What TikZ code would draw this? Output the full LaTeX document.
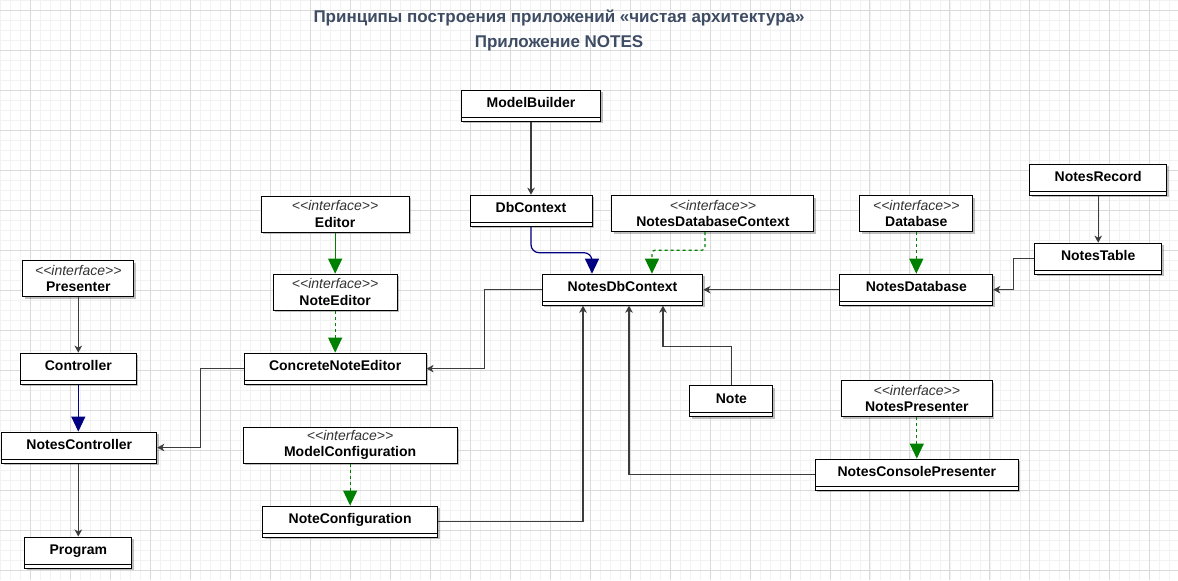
\documentclass[tikz,border=0pt]{standalone}
\usepackage{fontspec}
\setmainfont{Liberation Sans}
\usepackage{xcolor}
\usetikzlibrary{arrows.meta,shadows}

\definecolor{titleblue}{RGB}{62,76,100}
\definecolor{genblue}{RGB}{0,0,128}
\definecolor{realgreen}{RGB}{0,128,0}
\definecolor{gridmajor}{RGB}{218,218,218}
\definecolor{gridminor}{RGB}{242,242,242}
\definecolor{linegray}{RGB}{60,60,60}

\newcommand{\umlstereo}[1]{{\itshape\mdseries\color{black!80}<\kern0pt<#1>\kern0pt>}}

\begin{document}
\begin{tikzpicture}[x=1pt,y=-1pt,
  box/.style={draw,fill=white,line width=1pt,inner xsep=2pt,
              drop shadow={shadow xshift=2pt,shadow yshift=-2pt,opacity=0.25,fill=black}},
  cls/.style={box,inner ysep=0pt,text height=17.5pt,text depth=13.5pt,
              font=\fontsize{14}{17}\selectfont\bfseries,
              path picture={\draw[line width=0.7pt] ([yshift=4pt]path picture bounding box.south west)
                -- ([yshift=4pt]path picture bounding box.south east);}},
  iface/.style={box,align=center,minimum height=36pt,inner ysep=1pt,
                font=\fontsize{14}{16.5}\selectfont\bfseries},
  assoc/.style={-{Stealth[length=7pt,width=7.5pt,inset=2pt]},line width=1.2pt,draw=linegray},
  gen/.style={-{Triangle[length=15pt,width=14pt]},line width=1.2pt},
  real/.style={gen,dash pattern=on 3pt off 3pt,realgreen}]

% background grid
\fill[white] (0,0) rectangle (1178,580);
\foreach \gx in {0,10,...,1170} \draw[gridminor,line width=0.5pt] (\gx,0) -- (\gx,580);
\foreach \gy in {0,10,...,570} \draw[gridminor,line width=0.5pt] (0,\gy) -- (1178,\gy);
\foreach \gx in {30,70,...,1150} \draw[gridmajor,line width=0.7pt] (\gx,0) -- (\gx,580);
\foreach \gy in {10,50,...,570} \draw[gridmajor,line width=0.7pt] (0,\gy) -- (1178,\gy);
\useasboundingbox (0,0) rectangle (1178,580);

\node[font=\fontsize{17}{25}\selectfont\bfseries,text=titleblue,align=center] (title) at (559,30.5)
  {Принципы построения приложений «чистая архитектура»\\Приложение NOTES};

% data layer
\node[cls,minimum width=140pt]   (mb)    at (531,105.5)  {ModelBuilder};
\node[cls,minimum width=122pt]   (dbc)   at (531,210.5)  {DbContext};
\node[iface,minimum width=202pt] (ndc)   at (713,213.5)  {\umlstereo{interface}\\NotesDatabaseContext};
\node[cls,minimum width=161pt]   (ndb)   at (622.5,289.5) {NotesDbContext};
\node[iface,minimum width=113pt] (db)    at (916.5,213.5) {\umlstereo{interface}\\Database};
\node[cls,minimum width=153pt]   (ndbs)  at (916.5,289.5) {NotesDatabase};
\node[cls,minimum width=137pt]   (nrec)  at (1098.5,179.5) {NotesRecord};
\node[cls,minimum width=127pt]   (ntab)  at (1098.5,258.5) {NotesTable};

% editor
\node[iface,minimum width=148pt] (ed)    at (335,214)    {\umlstereo{interface}\\Editor};
\node[iface,minimum width=124pt] (ned)   at (335,292)    {\umlstereo{interface}\\NoteEditor};
\node[cls,minimum width=182pt]   (cne)   at (335,368.5)  {ConcreteNoteEditor};

% controller
\node[iface,minimum width=111pt] (pres)  at (78,278.5)   {\umlstereo{interface}\\Presenter};
\node[cls,minimum width=116pt]   (ctrl)  at (78,368.5)   {Controller};
\node[cls,minimum width=155pt]   (nctrl) at (79,447.5)   {NotesController};
\node[cls,minimum width=107pt]   (prog)  at (78,552.5)   {Program};

% configuration and presenter
\node[iface,minimum width=214pt] (mcfg)  at (350,445)    {\umlstereo{interface}\\ModelConfiguration};
\node[cls,minimum width=175pt]   (ncfg)  at (350,521.5)  {NoteConfiguration};
\node[cls,minimum width=83pt]    (note)  at (731.5,401)  {Note};
\node[iface,minimum width=151pt] (npres) at (917,398.5)  {\umlstereo{interface}\\NotesPresenter};
\node[cls,minimum width=203pt]   (ncp)   at (917,474.5)  {NotesConsolePresenter};

\draw[assoc] (mb) -- (dbc);
\draw[gen,genblue,rounded corners=8pt] (dbc.south) -- ++(0,26) -| ([xshift=-30.5pt]ndb.north);
\draw[real,rounded corners=3pt] ([xshift=-8pt]ndc.south) -- ++(0,18) -| ([xshift=29.5pt]ndb.north);
\draw[assoc] (ndbs) -- (ndb);
\draw[assoc] (ntab.west) -- ++(-21,0) |- (ndbs.east);
\draw[assoc] (nrec) -- (ntab);
\draw[real] (db) -- (ndbs);

\draw[gen,realgreen] (ed) -- (ned);
\draw[real] (ned) -- (cne);
\draw[assoc] (ndb.west) -- ++(-57,0) |- (cne.east);
\draw[assoc] (cne.west) -- ++(-43,0) |- (nctrl.east);

\draw[assoc] (pres) -- (ctrl);
\draw[gen,genblue] (ctrl) -- (ctrl |- nctrl.north);
\draw[assoc] (nctrl.south -| prog) -- (prog);

\draw[real] (mcfg) -- (ncfg);
\draw[assoc] (ncfg.east) -| ([xshift=-39.5pt]ndb.south);
\draw[assoc] (ncp.west) -| ([xshift=6.5pt]ndb.south);
\draw[assoc] (note.north) -- ++(0,-39) -| ([xshift=40.5pt]ndb.south);
\draw[real] (npres) -- (ncp);
\end{tikzpicture}
\end{document}
